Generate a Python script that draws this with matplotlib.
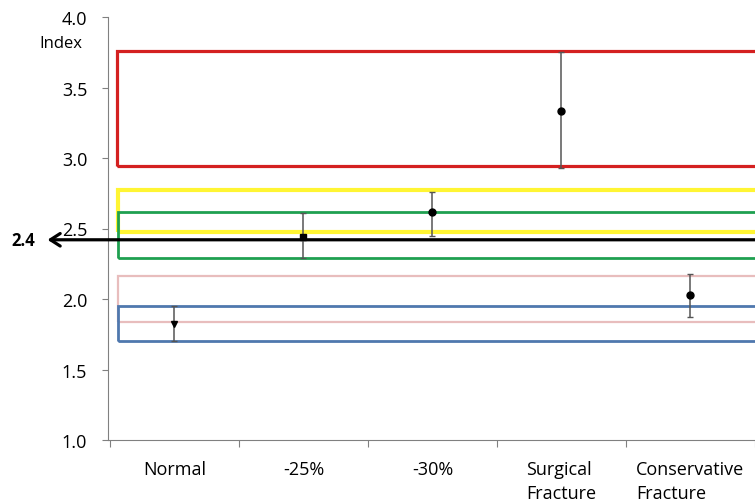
import matplotlib
matplotlib.use("Agg")
import matplotlib.pyplot as plt
from matplotlib.patches import Rectangle
import numpy as np

plt.rcParams['font.family'] = ['Open Sans', 'DejaVu Sans']

categories = ["Normal", "-25%", "-30%", "Surgical\nFracture", "Conservative\nFracture"]
means = [1.82, 2.44, 2.62, 3.33, 2.03]
err_low = [1.70, 2.29, 2.45, 2.93, 1.87]
err_high = [1.95, 2.61, 2.76, 3.75, 2.18]
markers = ["v", "s", "o", "o", "o"]

# reference ranges (lower, upper) and colors
band_low = [2.94, 2.475, 2.29, 1.84, 1.70]
band_high = [3.76, 2.77, 2.62, 2.16, 1.95]
band_colors = ["#D42020", "#FFF533", "#1FA050", "#E8BDBD", "#4F78AE"]
band_widths = [2.3, 3.0, 2.0, 1.6, 2.0]
threshold = 2.42
threshold_label = "2.4"
yticks = [1.0, 1.5, 2.0, 2.5, 3.0, 3.5, 4.0]

W, H = 755, 502
fig = plt.figure(figsize=(W / 100, H / 100), dpi=100)
ax_l, ax_r, ax_t, ax_b = 108, 755, 18, 441
ax = fig.add_axes([ax_l / W, (H - ax_b) / H, (ax_r - ax_l) / W, (ax_b - ax_t) / H])

xpos = np.arange(len(categories)) + 0.5
ax.set_xlim(-0.015, 4.93)
ax.set_ylim(1.0, 4.0)

# bands (drawn in order so later ones overlay)
order = [0, 2, 1, 3, 4]
for i in order:
    left = 0.053 if i == 0 else 0.062
    r = Rectangle((left, band_low[i]), 6 - left, band_high[i] - band_low[i],
                  fill=False, edgecolor=band_colors[i], lw=band_widths[i], zorder=2 + i * 0.1)
    ax.add_patch(r)

# threshold arrow
ax.annotate("", xy=(-0.0935, threshold), xycoords=("axes fraction", "data"),
            xytext=(1.02, threshold), textcoords=("axes fraction", "data"),
            arrowprops=dict(arrowstyle="->,head_length=0.7,head_width=0.45", lw=2.3, color="black",
                            shrinkA=0, shrinkB=0),
            annotation_clip=False, zorder=5)
fig.text(11 / W, 1 - 241 / H, threshold_label, fontsize=12, fontweight="bold",
         ha="left", va="center")

# data points
for i in range(len(means)):
    ax.errorbar([xpos[i]], [means[i]],
                yerr=[[means[i] - err_low[i]], [err_high[i] - means[i]]],
                fmt=markers[i], color="black", ecolor="#555555", elinewidth=1.1,
                capsize=2, capthick=1, markersize=5, zorder=6)

# axes styling
for s in ["top", "right"]:
    ax.spines[s].set_visible(False)
ax.spines["left"].set_color("#808080")
ax.spines["bottom"].set_color("#808080")
ax.set_yticks(yticks)
ax.set_yticklabels([f"{v:.1f}" for v in yticks], fontsize=13)
ax.tick_params(axis="y", direction="out", length=4, color="#808080", pad=11)
ax.set_xticks(np.arange(0, 6))
ax.set_xticklabels([])
ax.tick_params(axis="x", direction="out", length=5, color="#808080")

fig.text(82 / W, 1 - 44 / H, "Index", fontsize=12, ha="right", va="center")

label_ma = ["center", "center", "center", "left", "left"]
top_y = (ax_b - 461) / (ax_b - ax_t)
for i, lab in enumerate(categories):
    ax.text(xpos[i], top_y, lab, transform=ax.get_xaxis_transform(),
            ha="center", va="top", fontsize=13, linespacing=1.45,
            multialignment=label_ma[i])

fig.savefig("out.png", dpi=100)
